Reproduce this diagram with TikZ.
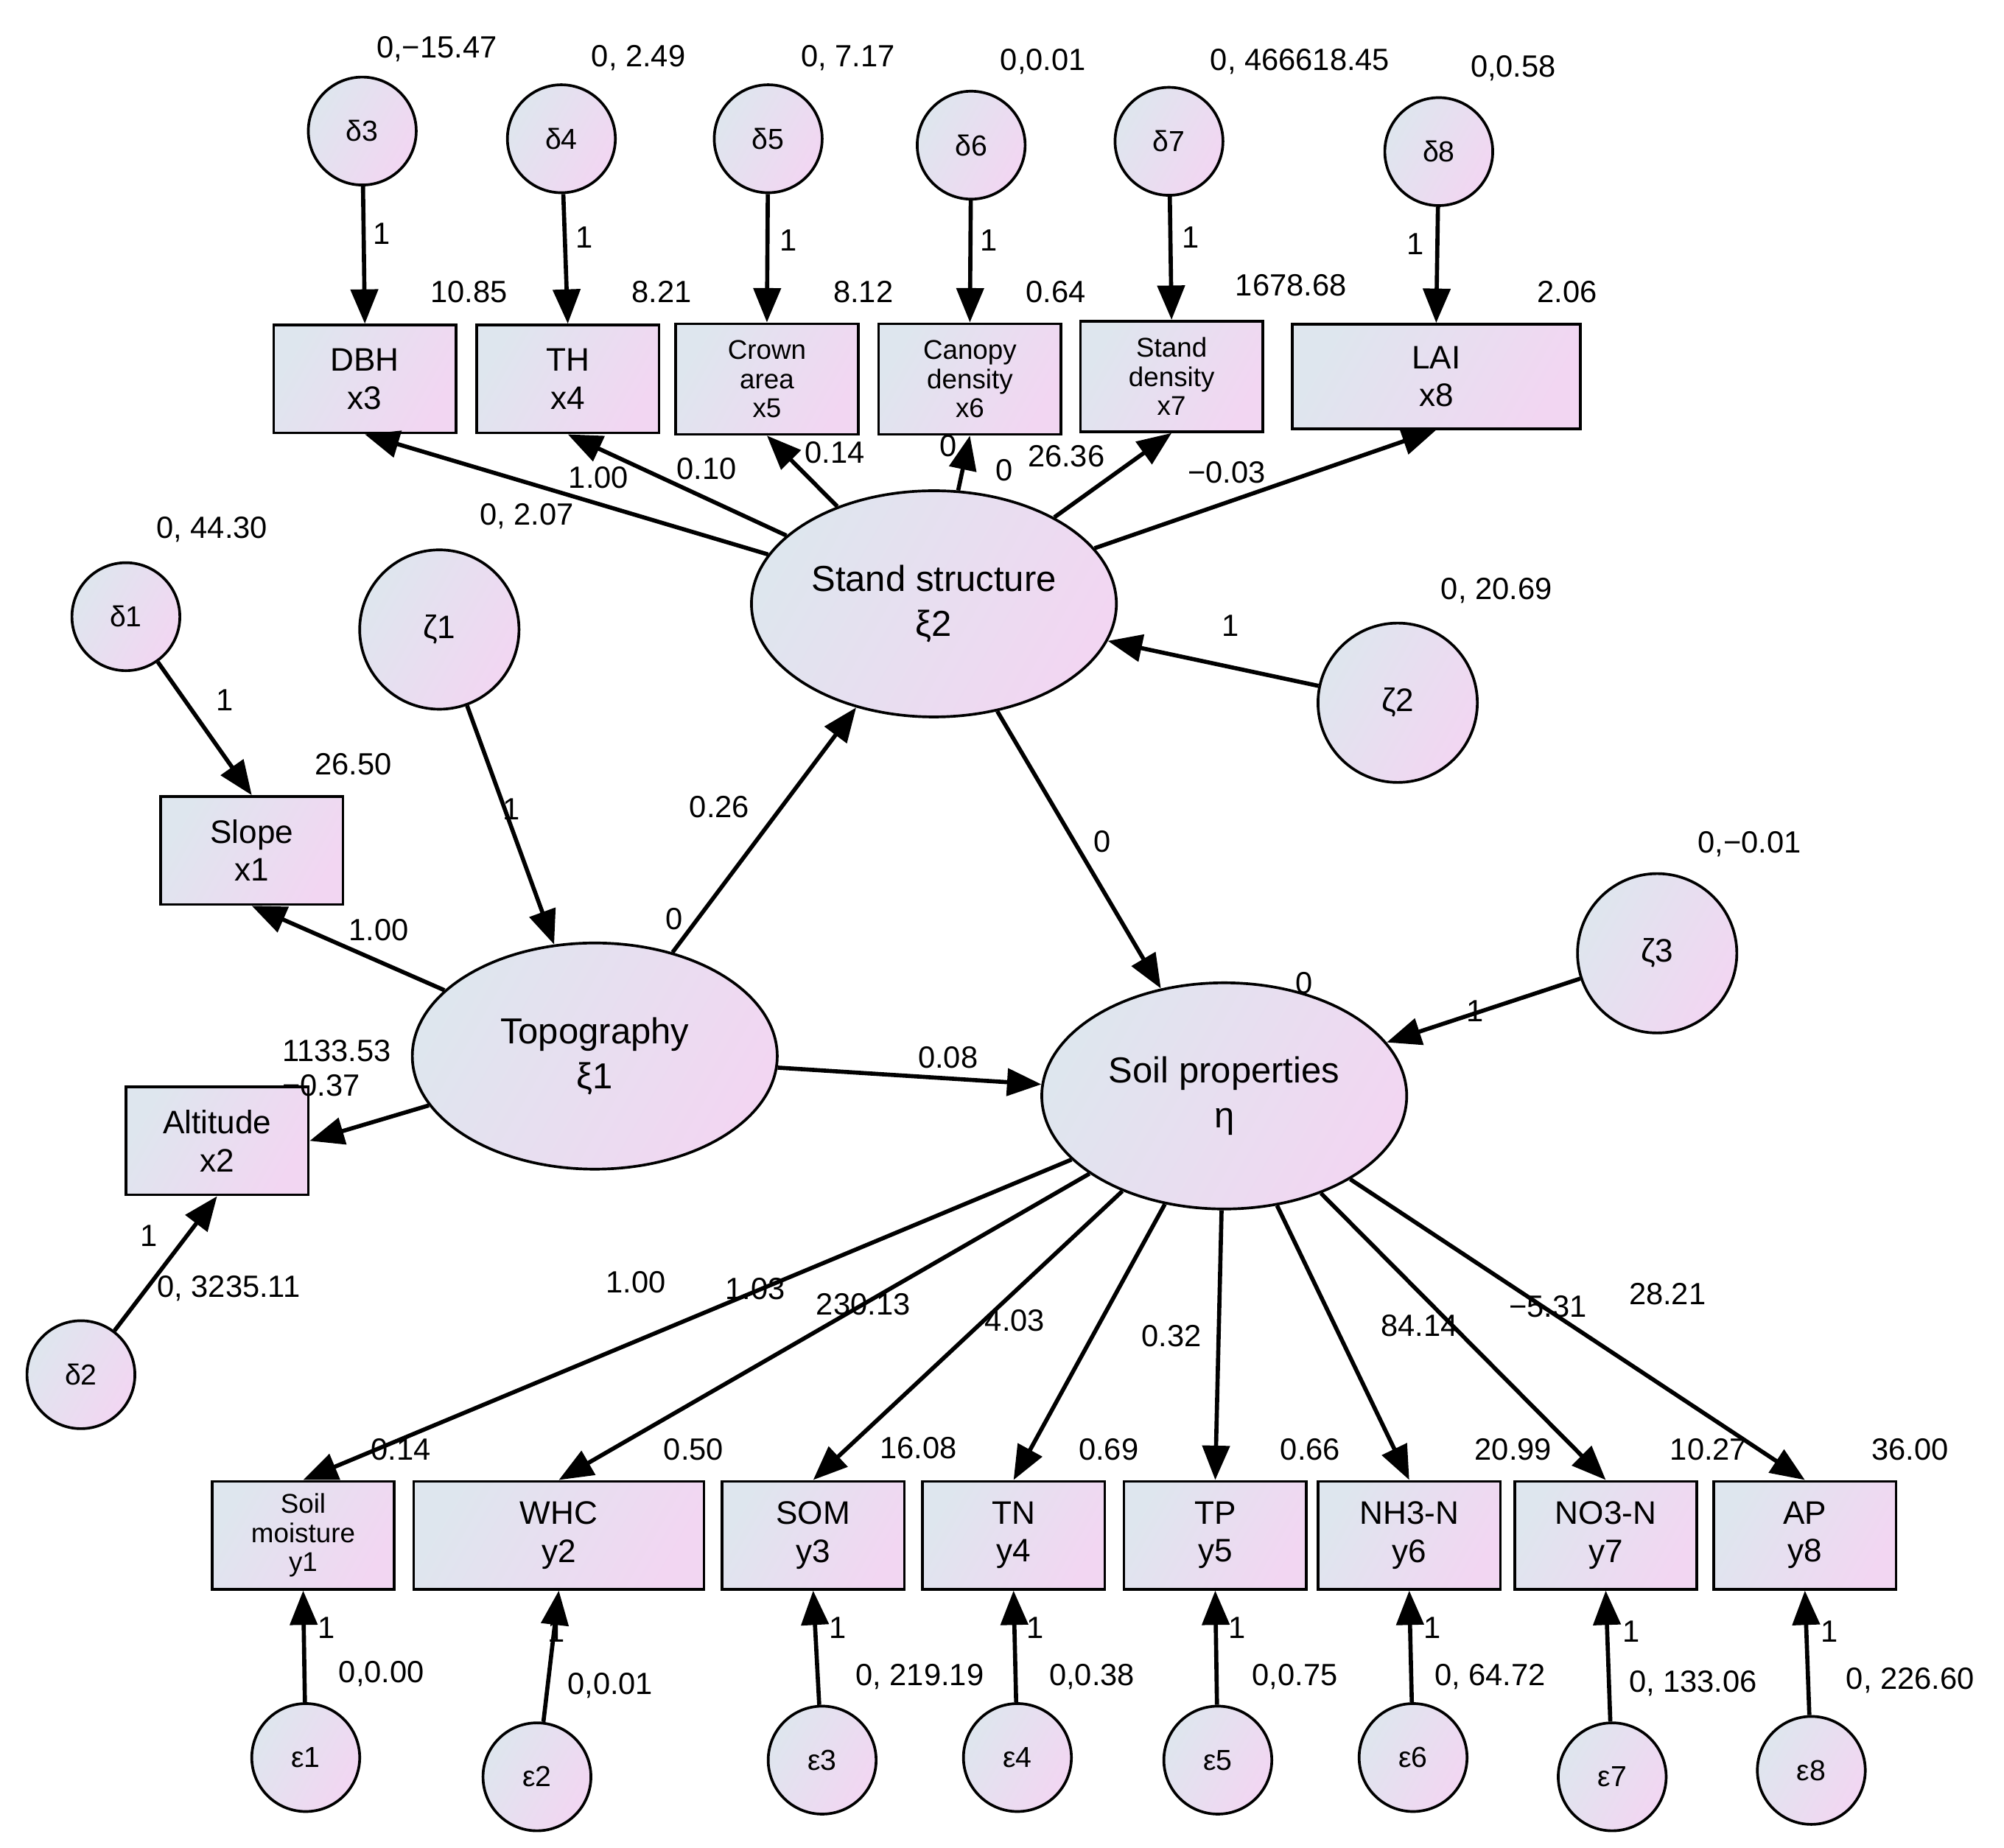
\documentclass[tikz,border=0pt]{standalone}
\usepackage{fontspec}
\setmainfont{Liberation Sans}
\usetikzlibrary{arrows.meta,shapes.geometric}
\begin{document}
\begin{tikzpicture}[x=0.025cm,y=-0.025cm,
 shadefill/.style={draw=black,line width=1.5pt,left color={rgb,255:red,222;green,230;blue,238},right color={rgb,255:red,242;green,214;blue,242},shading angle=60},
 box/.style={shadefill,rectangle,minimum width=3.55cm,minimum height=2.1cm,align=center,font=\fontsize{18}{21}\selectfont,inner sep=1pt},
 sbox/.style={box,font=\fontsize{15}{16}\selectfont},
 err/.style={shadefill,circle,minimum size=2.1cm,inner sep=0pt,font=\fontsize{16}{18}\selectfont},
 dist/.style={shadefill,circle,minimum size=3.1cm,inner sep=0pt,font=\fontsize{18}{21}\selectfont},
 lat/.style={shadefill,ellipse,minimum width=7.1cm,minimum height=4.4cm,align=center,font=\fontsize{20}{25}\selectfont},
 lab/.style={font=\fontsize{17}{20}\selectfont,inner sep=0pt},
 arr/.style={-{Triangle[length=19pt,width=15pt]},line width=2.3pt}]
\useasboundingbox (0,0) rectangle (1560,1438);
% top
\node[err] (d3) at (282,102) {δ3};
\node[err] (d4) at (437,108) {δ4};
\node[err] (d5) at (598,108) {δ5};
\node[err] (d6) at (756,113) {δ6};
\node[err] (d7) at (910,110) {δ7};
\node[err] (d8) at (1120,118) {δ8};
\node[box] (x3) at (284,295) {DBH\\x3};
\node[box] (x4) at (442,295) {TH\\x4};
\node[sbox,minimum height=2.15cm] (x5) at (597,295) {Crown\\area\\x5};
\node[sbox,minimum height=2.15cm] (x6) at (755,295) {Canopy\\density\\x6};
\node[sbox,minimum height=2.15cm] (x7) at (912,293) {Stand\\density\\x7};
\node[box,minimum width=5.6cm,minimum height=2.03cm] (x8) at (1118,293) {LAI\\x8};
\node[lat] (ss) at (727,470) {Stand structure\\ξ2};
\node[err] (d1) at (98,480) {δ1};
\node[dist] (z1) at (342,490) {ζ1};
\node[box] (x1) at (196,662) {Slope\\x1};
\node[lat] (tp) at (463,822) {Topography\\ξ1};
\node[box] (x2) at (169,888) {Altitude\\x2};
\node[err] (d2) at (63,1070) {δ2};
\node[dist] (z2) at (1088,547) {ζ2};
\node[dist] (z3) at (1290,742) {ζ3};
\node[lat] (sp) at (953,853) {Soil properties\\η};
% bottom boxes
\node[sbox] (y1) at (236,1195) {Soil\\moisture\\y1};
\node[box,minimum width=5.65cm] (y2) at (435,1195) {WHC\\y2};
\node[box] (y3) at (633,1195) {SOM\\y3};
\node[box] (y4) at (789,1195) {TN\\y4};
\node[box] (y5) at (946,1195) {TP\\y5};
\node[box] (y6) at (1097,1195) {NH3-N\\y6};
\node[box] (y7) at (1250,1195) {NO3-N\\y7};
\node[box] (y8) at (1405,1195) {AP\\y8};
\node[err] (e1) at (238,1368) {ε1};
\node[err] (e2) at (418,1383) {ε2};
\node[err] (e3) at (640,1370) {ε3};
\node[err] (e4) at (792,1368) {ε4};
\node[err] (e5) at (948,1370) {ε5};
\node[err] (e6) at (1100,1368) {ε6};
\node[err] (e7) at (1255,1383) {ε7};
\node[err] (e8) at (1410,1378) {ε8};
% arrows
\foreach \a/\b in {d3/x3,d4/x4,d5/x5,d6/x6,d7/x7,d8/x8} \draw[arr] (\a) -- (\b.north);
\foreach \b in {x3,x4,x5,x6,x7,x8} \draw[arr] (ss) -- (\b.south);
\draw[arr] (d1) -- (x1.north);
\draw[arr] (z1) -- (tp);
\draw[arr] (tp) -- (x1.south);
\draw[arr] (tp) -- (x2.east);
\draw[arr] (d2) -- (x2.south);
\draw[arr] (tp) -- (ss);
\draw[arr] (tp) -- (sp);
\draw[arr] (ss) -- (sp);
\draw[arr] (z2) -- (ss);
\draw[arr] (z3) -- (sp);
\foreach \b in {y1,y2,y3,y4,y5,y6,y7,y8} \draw[arr] (sp) -- (\b.north);
\foreach \a/\b in {e1/y1,e2/y2,e3/y3,e4/y4,e5/y5,e6/y6,e7/y7,e8/y8} \draw[arr] (\a) -- (\b.south);
% labels
\node[lab] (t1) at (340,38) {0,−15.47};
\node[lab] (t2) at (497,45) {0, 2.49};
\node[lab] (t3) at (660,45) {0, 7.17};
\node[lab] (t4) at (812,48) {0,0.01};
\node[lab] (t5) at (1012,48) {0, 466618.45};
\node[lab] (t6) at (1178,53) {0,0.58};
\node[lab] (o1) at (297,182) {1};
\node[lab] (o2) at (455,185) {1};
\node[lab] (o3) at (614,187) {1};
\node[lab] (o4) at (770,187) {1};
\node[lab] (o5) at (927,185) {1};
\node[lab] (o6) at (1102,190) {1};
\node[lab] (v1) at (365,227) {10.85};
\node[lab] (v2) at (515,227) {8.21};
\node[lab] (v3) at (672,227) {8.12};
\node[lab] (v4) at (822,227) {0.64};
\node[lab] (v5) at (1005,222) {1678.68};
\node[lab] (v6) at (1220,227) {2.06};
\node[lab] (s1) at (466,372) {1.00};
\node[lab] (s2) at (550,365) {0.10};
\node[lab] (s3) at (650,352) {0.14};
\node[lab] (s4) at (738,347) {0};
\node[lab] (s5) at (782,366) {0};
\node[lab] (s6) at (830,355) {26.36};
\node[lab] (s7) at (955,368) {−0.03};
\node[lab] (s8) at (410,402) {0, 2.07};
\node[lab] (a1) at (165,412) {0, 44.30};
\node[lab] (a2) at (175,545) {1};
\node[lab] (a3) at (275,595) {26.50};
\node[lab] (a4) at (398,630) {1};
\node[lab] (a5) at (525,715) {0};
\node[lab] (a6) at (295,724) {1.00};
\node[lab] (a7) at (262,818) {1133.53};
\node[lab] (a8) at (250,845) {−0.37};
\node[lab] (a9) at (116,962) {1};
\node[lab] (a10) at (178,1003) {0, 3235.11};
\node[lab] (a11) at (560,628) {0.26};
\node[lab] (a12) at (738,823) {0.08};
\node[lab] (a13) at (1165,460) {0, 20.69};
\node[lab] (a14) at (958,487) {1};
\node[lab] (a15) at (858,655) {0};
\node[lab] (a16) at (1362,657) {0,−0.01};
\node[lab] (a17) at (1148,787) {1};
\node[lab] (a18) at (1015,765) {0};
\node[lab] (w1) at (312,1128) {0.14};
\node[lab] (w2) at (540,1128) {0.50};
\node[lab] (w3) at (715,1127) {16.08};
\node[lab] (w4) at (863,1128) {0.69};
\node[lab] (w5) at (1020,1128) {0.66};
\node[lab] (w6) at (1178,1128) {20.99};
\node[lab] (w7) at (1330,1128) {10.27};
\node[lab] (w8) at (1487,1128) {36.00};
\node[lab] (m1) at (495,998) {1.00};
\node[lab] (m2) at (588,1003) {1.03};
\node[lab] (m3) at (672,1015) {230.13};
\node[lab] (m4) at (790,1028) {4.03};
\node[lab] (m5) at (912,1040) {0.32};
\node[lab] (m6) at (1105,1032) {84.14};
\node[lab] (m7) at (1205,1017) {−5.31};
\node[lab] (m8) at (1298,1007) {28.21};
\node[lab] (n1) at (297,1303) {0,0.00};
\node[lab] (n2) at (475,1312) {0,0.01};
\node[lab] (n3) at (716,1305) {0, 219.19};
\node[lab] (n4) at (850,1305) {0,0.38};
\node[lab] (n5) at (1008,1305) {0,0.75};
\node[lab] (n6) at (1160,1305) {0, 64.72};
\node[lab] (n7) at (1318,1310) {0, 133.06};
\node[lab] (n8) at (1487,1308) {0, 226.60};
\node[lab] (q1) at (254,1267) {1};
\node[lab] (q2) at (433,1270) {1};
\node[lab] (q3) at (652,1267) {1};
\node[lab] (q4) at (806,1267) {1};
\node[lab] (q5) at (963,1267) {1};
\node[lab] (q6) at (1115,1267) {1};
\node[lab] (q7) at (1270,1270) {1};
\node[lab] (q8) at (1424,1270) {1};
\end{tikzpicture}
\end{document}
